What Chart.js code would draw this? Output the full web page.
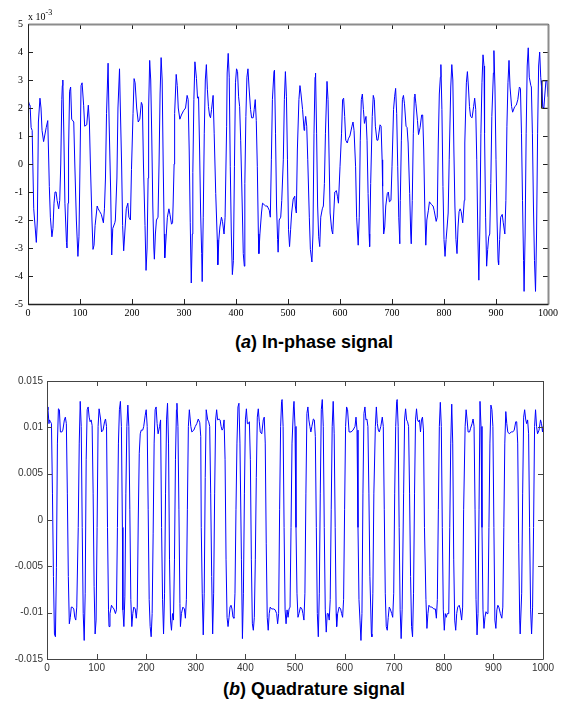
<!DOCTYPE html>
<html>
<head>
<meta charset="utf-8">
<script src="https://cdn.jsdelivr.net/npm/chart.js@4/dist/chart.umd.min.js"></script>
<style>
  html, body { margin: 0; padding: 0; background: #fff; }
  body { width: 568px; height: 707px; position: relative; overflow: hidden; }
  canvas { position: absolute; left: 0; }
  #c1 { top: 0; }
  #c2 { top: 360px; }
  .title { position: absolute; font-family: "Liberation Sans", Arial, sans-serif; font-weight: bold; font-size: 18px; line-height: 18px; white-space: nowrap; color: #000; }
  #mult { position: absolute; left: 28px; top: 9px; font-family: "Liberation Serif", "Times New Roman", serif; font-size: 10px; line-height: 10px; color: #000; }
  #mult sup { font-size: 8px; position: relative; top: -1px; }
</style>
</head>
<body>
<canvas id="c1" width="568" height="320"></canvas>
<canvas id="c2" width="568" height="315"></canvas>
<div id="mult">x 10<sup>-3</sup></div>
<div class="title" id="t1" style="left:235px; top:333px;">(<i>a</i>) In-phase signal</div>
<div class="title" id="t2" style="left:223px; top:680px;">(<i>b</i>) Quadrature signal</div>
<script>
// ---------- In-phase signal (values in units of 1e-3) ----------
const inPhaseX = [0,3,4,6,8,11,16,18,20,23,25,27,30,32,35,38,40,41,43,46,48,50,52,54,56,59,61,63,65,66,67,69,71,74,75,77,78,80,82,84,88,90,93,96,98,100,102,104,107,109,113,116,118,120,123,125,127,129,133,135,138,141,145,147,149,151,154,156,159,161,163,167,168,171,173,176,177,180,182,184,186,189,192,194,197,199,202,204,206,209,212,215,218,220,222,225,227,229,231,232,234,236,238,240,242,243,245,247,250,252,254,256,258,260,262,263,266,268,271,273,276,278,279,281,282,285,287,289,292,295,299,303,306,308,310,312,314,316,317,319,321,324,326,328,330,332,334,335,337,339,341,343,345,347,349,351,353,356,358,361,364,365,367,369,372,374,377,379,382,383,385,387,389,391,393,395,397,399,401,403,405,407,409,412,414,416,417,419,421,423,425,428,430,433,435,437,439,441,443,444,446,449,451,454,457,460,464,466,468,470,473,474,476,478,480,481,483,486,488,491,493,495,497,499,501,503,505,507,510,513,514,516,518,521,523,525,528,531,532,534,536,538,541,543,546,548,550,552,553,555,557,559,561,563,566,568,570,572,575,577,579,581,584,586,588,590,593,595,597,600,603,605,607,609,611,614,616,619,623,625,627,630,632,635,637,639,641,643,645,647,650,652,654,656,657,659,662,664,666,668,671,673,677,679,681,682,684,686,688,691,693,695,698,700,703,705,707,709,711,713,715,716,718,720,722,724,727,729,731,734,736,737,739,741,743,744,746,749,751,754,757,759,761,763,765,767,770,772,776,779,781,785,787,789,791,793,794,796,798,800,802,804,806,808,810,813,815,817,819,821,823,825,827,829,831,833,836,839,840,843,845,847,849,851,854,857,859,861,863,865,867,869,871,873,875,877,878,880,882,884,886,888,890,892,895,896,898,900,902,904,905,907,909,912,914,917,919,921,923,925,927,930,932,936,939,942,945,947,949,951,953,954,956,958,960,962,964,967,968,970,972,974,976,978,980,982,984,986,988,990,992,994,996,998,1000];
const inPhaseY = [2.3,2.1,2.1,1.3,1.2,-1.6,-2.8,-2.0,1.5,2.35,2.0,1.2,0.8,1.0,1.3,1.55,0,-0.8,-1.9,-2.6,-2.3,-1.4,-1.0,-1.0,-1.3,-1.6,-1.3,0,2.3,2.8,3.0,1.0,-1.4,-2.8,-3.0,-1.4,0.5,2.6,2.75,1.6,1.5,0,-2.0,-3.3,-2.6,0,2.8,2.9,2.1,1.35,1.4,2.1,1.5,0,-2.0,-3.05,-2.9,-2.2,-1.5,-1.6,-1.7,-1.8,-2.1,-1.6,-0.5,1.8,3.6,1.5,-1.0,-3.25,-2.3,-2.1,-2.0,-0.5,2.0,3.4,2.5,0,-2.2,-3.1,-2.5,-1.6,-1.4,-1.9,-2.0,-0.2,1.8,3.05,2.9,2.0,1.5,1.6,2.2,2.1,0,-2.2,-3.8,-3.0,-0.5,2.0,3.7,3.0,1.0,-1.5,-3.0,-3.4,-2.5,-2.0,-1.9,0,2.5,3.8,3.0,0,-2.5,-3.35,-2.5,-1.9,-1.6,-1.8,-2.15,-2.1,-1.5,0,1.8,3.2,2.8,2.0,1.6,1.75,1.9,2.0,2.45,2.3,0.5,-2.1,-4.25,-2.5,-0.3,2.3,3.65,3.05,2.35,2.4,0.5,-1.75,-3.2,-4.2,-1.9,1.1,3.0,3.55,2.65,2.05,1.75,1.65,1.95,2.45,1.1,-1.05,-2.7,-3.6,-2.7,-2.25,-1.9,-2.05,-2.5,-1.9,1.35,3.25,3.95,3.1,-0.1,-2.5,-3.95,-3.45,-0.1,2.9,3.4,3.3,2.4,2.05,0.85,-1.5,-3.2,-3.65,-0.7,1.7,3.1,3.4,2.75,1.95,1.65,1.65,1.95,2.3,1.55,-0.1,-2.5,-3.2,-2.5,-1.75,-1.4,-1.45,-1.5,-1.5,-1.65,-1.9,0.15,2.3,3.3,3.35,1.1,-1.5,-2.7,-3.15,-2.0,-1.9,-1.3,0.15,2.3,3.3,2.4,0.15,-2.35,-2.95,-2.35,-1.75,-1.25,-1.15,-1.5,-1.75,0.5,2.3,2.8,2.5,1.95,1.2,1.35,1.7,1.35,0.15,-1.9,-3.05,-3.5,-2.5,1.1,3.1,3.25,1.1,-1.5,-2.6,-2.95,-1.9,-1.6,-1.5,-0.7,1.1,2.95,2.3,0.25,-1.75,-2.35,-2.5,-1.75,-1.0,-0.95,-1.15,-1.4,-0.1,1.1,2.3,2.35,1.7,0.85,0.75,0.9,1.0,1.35,1.5,1.2,-0.1,-1.9,-2.9,-1.9,0.85,2.3,2.5,1.95,1.45,1.7,0.85,-1.05,-2.5,-2.95,-0.7,1.7,2.45,2.3,1.35,0.85,0.85,1.4,1.35,0.15,-0.8,-2.5,-2.25,-1.5,-1.05,-1.0,-1.35,-1.3,-0.1,1.95,2.4,2.7,1.8,-0.1,-1.9,-2.85,-1.3,0.85,2.3,2.45,2.15,1.35,1.3,0.75,-1.05,-2.5,-2.85,-1.3,1.1,2.4,2.5,2.15,1.55,1.05,1.3,1.75,1.75,0.5,-1.5,-2.9,-2.0,-1.65,-1.35,-1.45,-1.5,-1.65,-2.05,-1.9,0.75,2.5,3.1,3.55,1.95,-0.8,-2.7,-3.3,-2.7,-2.25,-1.75,0.15,2.75,3.55,3.0,0.5,-1.5,-2.7,-3.2,-2.25,-1.7,-1.6,-1.7,-2.1,-1.3,0.75,2.9,3.3,2.75,2.05,1.7,1.65,2.05,2.35,1.95,0.15,-2.5,-4.15,-2.25,1.1,2.9,3.9,3.5,1.1,-1.9,-3.65,-3.05,-2.6,-2.5,-0.7,1.7,3.25,4.05,2.75,0.15,-2.0,-3.45,-3.6,-2.7,-1.9,-1.8,-2.1,-2.5,-1.3,1.35,2.9,3.7,2.75,2.05,1.85,2.05,2.1,2.3,2.75,2.7,1.1,-1.3,-3.45,-4.55,-2.5,1.1,3.5,4.15,3.1,2.8,2.75,1.1,-1.5,-3.45,-4.55,-2.5,1.1,3.5,4.0,3.1,2.65,2.05,2.0,2.5,2.95,3.0,2.4];
// small dark marker box drawn at the right end of the in-phase trace
const markerBoxX = [1000,988,988,1000];
const markerBoxY = [2.97,2.97,1.99,1.99];
const inPhaseTicksX = [0,100,200,300,400,500,600,700,800,900,1000];
const inPhaseTicksY = [-5,-4,-3,-2,-1,0,1,2,3,4,5];

// ---------- Quadrature signal (values in units of 1e-3) ----------
const quadX = [0,2,4,5,7,9,11,13,15,17,19,21,23,25,27,30,32,35,37,39,41,43,45,47,49,51,54,56,58,60,63,65,67,69,71,73,75,77,79,81,83,85,87,89,91,93,95,97,99,101,103,105,108,110,113,116,118,120,122,124,125,127,130,132,135,138,140,142,144,146,148,150,152,153,155,157,159,161,163,165,167,169,171,173,175,178,180,182,184,186,188,190,193,195,198,200,202,204,206,208,210,212,214,216,218,220,222,224,227,229,231,233,235,237,239,241,243,245,247,249,251,253,255,257,259,261,262,264,266,268,269,271,274,277,279,281,283,285,287,290,292,296,299,302,305,308,310,311,313,315,317,319,321,324,326,328,330,332,334,336,338,340,342,344,347,349,351,353,355,357,359,361,363,365,367,369,371,373,375,377,379,381,383,385,387,389,392,394,396,398,400,402,404,406,408,410,412,414,416,418,420,422,424,426,428,430,433,436,438,440,442,444,446,448,450,453,457,460,463,465,467,469,471,473,474,476,478,480,482,484,486,488,490,492,494,497,498,500,502,504,506,508,511,514,516,518,520,522,524,526,528,530,532,534,537,539,541,543,545,547,549,551,553,555,557,559,561,563,565,567,569,571,573,575,577,579,581,583,584,586,589,592,594,596,598,600,602,604,606,609,613,617,621,623,625,627,629,631,633,635,637,639,641,643,645,647,649,651,654,655,657,659,662,664,666,668,670,673,676,678,680,682,684,686,688,690,692,695,697,699,701,703,705,706,708,710,712,714,716,719,721,723,725,727,729,731,733,735,737,739,741,743,745,747,749,751,753,755,757,759,761,764,766,768,770,773,776,780,783,785,787,789,791,793,795,797,799,801,803,805,807,810,812,814,816,818,820,822,824,826,828,831,833,836,838,840,843,845,847,849,852,854,857,859,861,863,865,867,869,871,873,875,877,879,881,883,885,887,889,891,893,895,897,899,901,903,905,907,909,911,914,917,919,921,923,925,927,929,932,936,939,942,945,947,949,951,953,954,957,959,961,963,965,967,969,971,973,975,977,979,981,983,985,987,989,992,995,997,999,1000];
const quadY = [12.2,11.9,10.4,10.8,10.6,10.4,2.9,-6.1,-12.3,-12.6,-5.1,8.3,12.0,11.9,9.5,9.5,9.7,10.8,11.1,10.4,2.9,-6.1,-11.2,-10.5,-9.4,-9.4,-9.6,-10.5,-10.8,-9.4,-0.8,8.3,12.8,10.1,-0.8,-10.1,-13.0,-7.9,6.5,11.9,12.2,11.1,10.6,10.8,10.2,2.9,-7.2,-12.3,-10.8,-0.8,10.1,12.0,10.9,9.5,9.7,10.6,10.9,10.1,-0.8,-9.7,-11.5,-10.1,-9.2,-9.4,-9.6,-10.1,-9.7,-0.8,8.3,11.9,12.8,10.1,-0.8,-9.7,-11.5,-8.3,2.9,10.1,12.4,10.1,1.1,-8.6,-11.5,-10.1,-9.4,-9.6,-10.6,-9.4,0,7.2,9.3,9.7,9.7,10.1,11.3,11.9,10.1,1.1,-8.6,-11.5,-12.6,-10.1,-1.5,8.3,11.9,12.2,10.4,9.3,10.1,10.8,-0.8,-8.6,-12.3,-7.9,2.9,10.8,12.6,8.3,-4.3,-10.8,-11.9,-10.1,-10.8,-4.3,6.5,11.9,12.6,10.1,1.1,-9.0,-11.5,-10.1,-9.4,-9.6,-10.6,-8.6,1.1,10.1,11.9,10.1,9.5,9.7,10.1,10.4,10.9,10.5,9.0,-0.8,-7.9,-12.4,-7.9,4.6,11.9,10.8,10.6,10.1,2.9,-6.1,-12.3,-7.9,2.9,10.8,11.9,10.8,10.9,10.8,10.1,9.7,9.9,10.8,6.5,-4.3,-10.5,-11.5,-10.5,-9.4,-9.2,-9.6,-10.5,-10.6,-7.9,1.1,8.3,12.2,12.6,8.3,-4.3,-12.8,-7.9,2.9,10.8,12.0,10.4,10.4,10.6,6.5,-4.3,-11.2,-11.9,-10.5,-4.3,4.6,11.1,12.0,10.6,9.5,9.3,10.8,11.1,8.3,-2.5,-10.5,-11.9,-10.1,-9.4,-9.6,-9.6,-9.7,-10.1,-11.2,-10.1,1.1,10.1,12.8,13.0,10.1,-0.8,-9.7,-11.2,-9.7,-10.5,-9.6,-9.4,-0.8,8.3,12.2,12.8,10.1,-0.8,-7.9,-10.5,-10.1,-9.4,-9.6,-10.1,-10.8,-7.9,2.9,11.5,12.2,10.8,10.1,9.5,10.1,10.9,10.8,9.0,-0.8,-10.1,-12.6,-7.9,2.9,11.9,13.0,10.1,-0.8,-9.7,-12.1,-10.1,-10.1,-10.8,-8.6,1.1,10.1,12.8,9.3,-0.8,-10.1,-11.5,-10.1,-9.4,-9.6,-10.1,-10.5,-8.6,1.1,10.1,12.2,11.9,9.5,9.5,9.7,10.1,11.1,9.7,-0.8,-8.6,-10.8,-13.0,-10.1,2.9,11.5,12.2,10.8,10.9,10.1,2.9,-6.1,-12.3,-12.6,-7.9,2.9,10.1,12.2,10.4,9.7,9.5,10.1,11.1,10.1,1.1,-7.9,-11.5,-11.9,-10.5,-9.4,-9.6,-10.1,-10.5,-7.9,2.9,10.1,12.8,13.0,10.1,-0.8,-9.7,-12.8,-9.7,2.9,10.9,12.0,10.8,10.6,10.1,2.9,-6.1,-11.5,-12.6,-7.9,2.9,10.8,12.0,10.8,10.6,10.8,9.5,10.8,11.1,9.7,-0.8,-8.6,-11.7,-10.1,-9.2,-9.4,-9.4,-9.6,-9.6,-10.6,-8.6,1.1,10.1,12.7,10.1,-0.8,-9.7,-11.9,-10.1,-10.5,-10.1,-10.1,-0.8,8.3,12.5,8.3,-4.3,-10.8,-11.9,-10.1,-9.4,-9.2,-9.6,-10.8,-9.4,1.1,10.1,11.9,10.8,9.5,9.5,9.9,10.4,10.9,10.1,1.1,-8.6,-12.4,-10.1,1.1,12.8,10.1,-0.8,-9.7,-11.7,-10.5,-9.9,-10.1,-10.1,-0.8,8.3,12.4,11.9,10.1,-0.8,-10.8,-11.7,-9.7,-9.2,-9.4,-10.1,-10.6,-9.4,-0.8,8.3,11.7,10.4,9.5,9.3,9.5,9.5,9.7,10.6,10.6,8.3,-2.5,-10.8,-12.3,-7.9,2.9,11.1,11.9,10.9,10.4,10.8,9.3,-0.8,-9.7,-12.3,-9.4,-0.8,10.1,11.9,10.1,9.3,9.7,10.8,10.4,9.5,10.1];
const quadTicksX = [0,100,200,300,400,500,600,700,800,900,1000];
const quadTicksY = [-15,-10,-5,0,5,10,15];

// ---------- helpers ----------
function pts(xs, ys) { return xs.map((x, i) => ({ x: x, y: ys[i] })); }

function framePlugin(cfg) {
  return {
    id: 'frame' + cfg.name,
    afterDraw(chart) {
      const ctx = chart.ctx, a = chart.chartArea;
      const xs = chart.scales.x, ys = chart.scales.y;
      ctx.save();
      ctx.strokeStyle = cfg.tickColor; ctx.lineWidth = 1;
      ctx.beginPath();
      cfg.ticksX.forEach(v => {
        const px = Math.round(xs.getPixelForValue(v)) + 0.5;
        ctx.moveTo(px, a.bottom); ctx.lineTo(px, a.bottom - cfg.tl);
        ctx.moveTo(px, a.top); ctx.lineTo(px, a.top + cfg.tl);
      });
      cfg.ticksY.forEach(v => {
        const py = Math.round(ys.getPixelForValue(v)) + 0.5;
        ctx.moveTo(a.left, py); ctx.lineTo(a.left + cfg.tl, py);
        ctx.moveTo(a.right, py); ctx.lineTo(a.right - cfg.tl, py);
      });
      ctx.stroke();
      const L = Math.round(a.left) + 0.5, R = Math.round(a.right) + 0.5;
      const T = Math.round(a.top) + 0.5, B = Math.round(a.bottom) + 0.5;
      ctx.lineWidth = cfg.topW; ctx.strokeStyle = cfg.topColor;
      ctx.beginPath(); ctx.moveTo(L, T); ctx.lineTo(R, T); ctx.stroke();
      ctx.lineWidth = cfg.rightW; ctx.strokeStyle = cfg.rightColor;
      ctx.beginPath(); ctx.moveTo(R, T); ctx.lineTo(R, B); ctx.stroke();
      ctx.lineWidth = cfg.leftW; ctx.strokeStyle = cfg.leftColor;
      ctx.beginPath(); ctx.moveTo(L, T); ctx.lineTo(L, B); ctx.stroke();
      ctx.lineWidth = cfg.bottomW; ctx.strokeStyle = cfg.bottomColor;
      ctx.beginPath(); ctx.moveTo(L, B); ctx.lineTo(R, B); ctx.stroke();
      ctx.restore();
    }
  };
}

function makeChart(id, opts) {
  return new Chart(document.getElementById(id), {
    type: 'line',
    data: { datasets: opts.datasets },
    options: {
      responsive: false,
      maintainAspectRatio: false,
      devicePixelRatio: 1,
      animation: false,
      events: [],
      layout: { padding: opts.padding },
      plugins: { legend: { display: false }, tooltip: { enabled: false }, title: { display: false } },
      elements: { point: { radius: 0 }, line: { tension: 0 } },
      scales: {
        x: {
          type: 'linear', min: 0, max: 1000,
          afterBuildTicks: (s) => { s.ticks = opts.ticksX.map(v => ({ value: v })); },
          afterFit: (s) => { s.height = opts.xh; },
          grid: { display: false, drawTicks: false },
          border: { display: false },
          ticks: { autoSkip: false, maxRotation: 0, padding: opts.xpad, color: opts.labelColor, font: opts.font,
                   callback: (v) => String(v) }
        },
        y: {
          type: 'linear', min: opts.ymin, max: opts.ymax,
          afterBuildTicks: (s) => { s.ticks = opts.ticksY.map(v => ({ value: v })); },
          afterFit: (s) => { s.width = opts.yw; },
          grid: { display: false, drawTicks: false },
          border: { display: false },
          ticks: { autoSkip: false, padding: opts.ypad, color: opts.labelColor, font: opts.font, callback: opts.ycb }
        }
      }
    },
    plugins: [opts.frame]
  });
}

// ---------- top: in-phase ----------
makeChart('c1', {
  datasets: [
    { data: pts(inPhaseX, inPhaseY), borderColor: '#0000ff', borderWidth: 1, pointRadius: 0, fill: false },
    { data: pts(markerBoxX, markerBoxY), borderColor: '#222222', borderWidth: 1, pointRadius: 0, fill: false }
  ],
  padding: { left: 0, right: 20, top: 24, bottom: 0 },
  xh: 16, yw: 28, xpad: 3, ypad: 5,
  ymin: -5, ymax: 5,
  ticksX: inPhaseTicksX, ticksY: inPhaseTicksY,
  labelColor: '#000',
  font: { family: '"Liberation Serif", "Times New Roman", serif', size: 10 },
  ycb: (v) => String(v),
  frame: framePlugin({ name: 'a', ticksX: inPhaseTicksX, ticksY: inPhaseTicksY, tl: 5, tickColor: '#222',
    topColor: '#8c8c8c', topW: 2, rightColor: '#8c8c8c', rightW: 2,
    leftColor: '#222', leftW: 1, bottomColor: '#222', bottomW: 1.5 })
});

// ---------- bottom: quadrature ----------
makeChart('c2', {
  datasets: [
    { data: pts(quadX, quadY), borderColor: '#0000ff', borderWidth: 1, pointRadius: 0, fill: false }
  ],
  padding: { left: 0, right: 25, top: 21, bottom: 0 },
  xh: 16, yw: 47, xpad: 3, ypad: 4,
  ymin: -15, ymax: 15,
  ticksX: quadTicksX, ticksY: quadTicksY,
  labelColor: '#333',
  font: { family: '"Liberation Sans", Arial, sans-serif', size: 10 },
  ycb: (v) => String(v / 1000),
  frame: framePlugin({ name: 'b', ticksX: quadTicksX, ticksY: quadTicksY, tl: 5, tickColor: '#444',
    topColor: '#444', topW: 1, rightColor: '#444', rightW: 1,
    leftColor: '#444', leftW: 1, bottomColor: '#444', bottomW: 1 })
});
</script>
</body>
</html>
